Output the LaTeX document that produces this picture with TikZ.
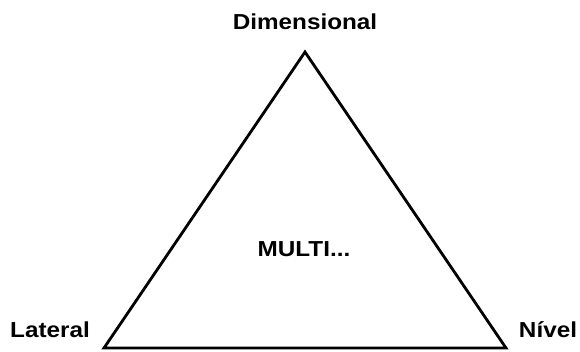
\documentclass[tikz,border=0pt]{standalone}
\usepackage{fontspec}
\setsansfont{Liberation Sans}[FakeStretch=1.12]
\usetikzlibrary{positioning}

\tikzset{
  corner/.style={font=\sffamily\bfseries\fontsize{18.5}{22}\selectfont, anchor=base, inner sep=0pt},
  side/.style={line width=2.4pt, line join=miter}
}

\begin{document}
\begin{tikzpicture}[x=0.03cm, y=-0.03cm]
  \useasboundingbox (0,0) rectangle (580,351);

  % Corners
  \coordinate (top) at (305,52);
  \coordinate (left) at (104,348);
  \coordinate (right) at (506,348);

  % Triangle
  \draw[side] (top) -- (right) -- (left) -- cycle;

  % Labels
  \node[corner] (dim) at (305,29) {Dimensional};
  \node[corner] (lat) at (50,337.5) {Lateral};
  \node[corner] (niv) at (548,337.5) {Nível};
  \node[corner] (multi) at (304,256) {MULTI...};
\end{tikzpicture}
\end{document}
